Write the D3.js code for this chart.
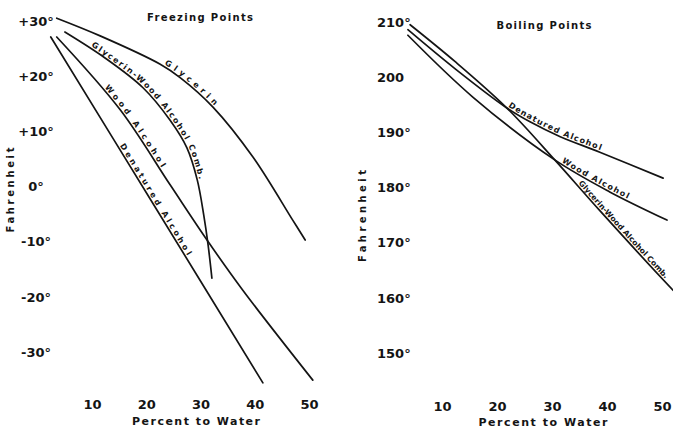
<!DOCTYPE html>
<html><head><meta charset="utf-8">
<script src="https://cdn.jsdelivr.net/npm/d3@7"></script>
<style>
html,body{margin:0;padding:0;background:#fff;}
svg{display:block;}
</style></head><body>
<svg id="chart" width="673" height="437"></svg>
<script>
// ---------- data ----------
const xTicks = [10, 20, 30, 40, 50];
const freezeTicks = [30, 20, 10, 0, -10, -20, -30];
const freezeTickLabels = ["+30°", "+20°", "+10°", "0°", "-10°", "-20°", "-30°"];
const boilTicks = [210, 200, 190, 180, 170, 160, 150];
const boilTickLabels = ["210°", "200", "190°", "180°", "170°", "160°", "150°"];

// Freezing points (percent water -> °F)
const glycerinFreezePct  = [3.5, 11.5, 22.5, 26.3, 32.3, 39.7, 47.0, 49.3];
const glycerinFreezeTemp = [30.5, 27.3, 22.2, 19.7, 14.4, 5.3, -6.1, -9.7];
const combFreezePct  = [5.0, 12.4, 19.4, 24.4, 27.5, 29.4, 30.6, 31.4, 32.1];
const combFreezeTemp = [28.0, 23.3, 17.9, 12.0, 7.0, 1.2, -5.2, -10.6, -16.6];
const woodFreezePct  = [3.5, 15.2, 24.4, 31.2, 37.8, 50.7];
const woodFreezeTemp = [27.1, 13.9, 0.3, -9.7, -18.8, -35.1];
const denaturedFreezePct  = [2.4, 22.0, 41.5];
const denaturedFreezeTemp = [27.1, -4.3, -35.6];

// Boiling points (percent water -> °F)
const denaturedBoilPct  = [3.8, 12.4, 21.8, 26.0, 31.5, 38.7, 50.2];
const denaturedBoilTemp = [208.6, 201.5, 194.4, 191.9, 189.2, 186.4, 181.7];
const woodBoilPct  = [3.8, 15.6, 30.5, 40.5, 50.9];
const woodBoilTemp = [207.6, 196.4, 185.0, 179.2, 174.1];
const combBoilPct  = [4.2, 12.4, 21.8, 30.5, 38.7, 52.0, 54.0];
const combBoilTemp = [209.5, 202.8, 194.4, 185.0, 175.8, 161.4, 159.4];

// ---------- drawing ----------
const svg = d3.select("#chart");
svg.append("rect").attr("width", 673).attr("height", 437).attr("fill", "#fff");
const FONT = "'DejaVu Sans', sans-serif";
const INK = "#141414";

const xL = d3.scaleLinear().domain([10, 50]).range([92, 309]);
const yL = d3.scaleLinear().domain([30, -30]).range([21, 352]);
const xR = d3.scaleLinear().domain([10, 50]).range([442, 662]);
const yR = d3.scaleLinear().domain([210, 150]).range([22, 353]);

function zip(a, b) { return a.map((v, i) => [v, b[i]]); }

function drawCurve(id, pct, temp, xs, ys) {
  const line = d3.line().x(d => xs(d[0])).y(d => ys(d[1])).curve(d3.curveCatmullRom.alpha(0.5));
  return svg.append("path").attr("id", id).attr("d", line(zip(pct, temp)))
    .attr("fill", "none").attr("stroke", INK).attr("stroke-width", 1.7)
    .attr("stroke-linecap", "round");
}

function addLabel(pathSel, text, x0, x1, xs, size, adjust) {
  const node = pathSel.node();
  const total = node.getTotalLength();
  function lenAt(px) {
    let lo = 0, hi = total;
    for (let i = 0; i < 40; i++) {
      const mid = (lo + hi) / 2;
      if (node.getPointAtLength(mid).x < px) lo = mid; else hi = mid;
    }
    return lo;
  }
  const l0 = lenAt(xs(x0)), l1 = lenAt(xs(x1));
  svg.append("text").attr("dy", -2)
    .attr("font-family", FONT).attr("font-size", size || 8).attr("font-weight", "bold").attr("fill", INK)
    .append("textPath").attr("href", "#" + pathSel.attr("id"))
    .attr("startOffset", l0).attr("textLength", l1 - l0).attr("lengthAdjust", adjust || "spacing")
    .text(text);
}

// Left panel curves
const pGlyF = drawCurve("glyF", glycerinFreezePct, glycerinFreezeTemp, xL, yL);
const pCombF = drawCurve("combF", combFreezePct, combFreezeTemp, xL, yL);
const pWoodF = drawCurve("woodF", woodFreezePct, woodFreezeTemp, xL, yL);
const pDenF = drawCurve("denF", denaturedFreezePct, denaturedFreezeTemp, xL, yL);
addLabel(pGlyF, "Glycerin", 23.1, 32.3, xL);
addLabel(pCombF, "Glycerin-Wood Alcohol Comb.", 9.6, 29.4, xL);
addLabel(pWoodF, "Wood Alcohol", 12.0, 22.5, xL);
addLabel(pDenF, "Denatured Alcohol", 14.8, 27.3, xL);

// Right panel curves
const pDenB = drawCurve("denB", denaturedBoilPct, denaturedBoilTemp, xR, yR);
const pWoodB = drawCurve("woodB", woodBoilPct, woodBoilTemp, xR, yR);
const pCombB = drawCurve("combB", combBoilPct, combBoilTemp, xR, yR);
addLabel(pDenB, "Denatured Alcohol", 21.8, 38.7, xR);
addLabel(pWoodB, "Wood Alcohol", 31.5, 43.6, xR);
addLabel(pCombB, "Glycerin-Wood Alcohol Comb.", 34.5, 50.3, xR, 7.5, "spacingAndGlyphs");

// Axes (no domain lines, no tick marks)
function styleAxis(g, anchor) {
  g.select(".domain").remove();
  g.attr("font-family", FONT).attr("font-size", 13).attr("font-weight", "bold");
  g.selectAll("text").attr("fill", INK);
  if (anchor) g.selectAll("text").attr("text-anchor", anchor).attr("x", 0);
}
const gyL = svg.append("g").attr("transform", "translate(36,0)")
  .call(d3.axisLeft(yL).tickValues(freezeTicks).tickFormat((d, i) => freezeTickLabels[i]).tickSize(0).tickPadding(0));
styleAxis(gyL, "middle");
const gxL = svg.append("g").attr("transform", "translate(0,400)")
  .call(d3.axisBottom(xL).tickValues(xTicks).tickFormat(d3.format("d")).tickSize(0).tickPadding(0));
styleAxis(gxL, null);
const gyR = svg.append("g").attr("transform", "translate(377,0)")
  .call(d3.axisLeft(yR).tickValues(boilTicks).tickFormat((d, i) => boilTickLabels[i]).tickSize(0).tickPadding(0));
styleAxis(gyR, "start");
const gxR = svg.append("g").attr("transform", "translate(0,402)")
  .call(d3.axisBottom(xR).tickValues(xTicks).tickFormat(d3.format("d")).tickSize(0).tickPadding(0));
styleAxis(gxR, null);

// Titles
function title(text, x, y, len, size, rot) {
  svg.append("text").attr("x", x).attr("y", y)
    .attr("transform", rot ? `rotate(${rot},${x},${y})` : null)
    .attr("text-anchor", "middle").attr("dominant-baseline", "central")
    .attr("font-family", FONT).attr("font-size", size).attr("font-weight", "bold").attr("fill", INK)
    .attr("textLength", len).attr("lengthAdjust", "spacing")
    .text(text);
}
title("Freezing Points", 200, 17, 106, 10);
title("Boiling Points", 544, 25, 95, 10);
title("Percent to Water", 196, 421, 128, 11);
title("Percent to Water", 543, 422, 129, 11);
title("Fahrenheit", 10, 190, 85, 10, -90);
title("Fahrenheit", 362, 216, 92, 10, -90);
</script>
</body></html>
